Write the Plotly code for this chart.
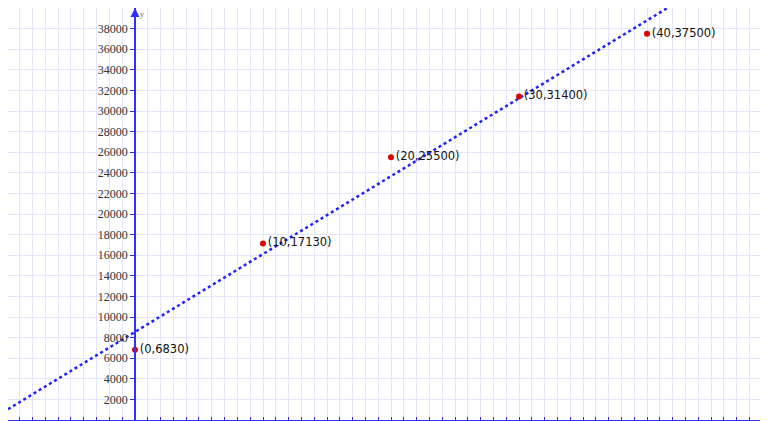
import numpy as np
import plotly.graph_objects as go

# data points
xs = [0, 10, 20, 30, 40]
ys = [6830, 17130, 25500, 31400, 37500]
y_ticks = list(range(2000, 40000, 2000))

# the page body has an 8px margin, so the figure starts at (8, 8)
x_range = [-9.92, 49.45]
y_range = [0, 40000]

# least-squares line through the points
slope, intercept = np.polyfit(xs, ys, 1)
line_x = np.array(x_range)
line_y = slope * line_x + intercept

labels = [f"({x},{y})" for x, y in zip(xs, ys)]

fig = go.Figure()

fig.add_trace(go.Scatter(
    x=line_x, y=line_y,
    mode="lines",
    line=dict(color="#2020ff", width=2.5, dash="dot"),
    hoverinfo="skip",
))

fig.add_trace(go.Scatter(
    x=xs, y=ys,
    mode="markers+text",
    text=labels,
    textposition="middle right",
    textfont=dict(family="DejaVu Sans", size=11.5, color="#111"),
    marker=dict(color="#dd0000", size=6),
    cliponaxis=False,
))

# arrow on top of the y axis
fig.add_annotation(
    x=0, y=y_range[1], ax=0, ay=18, xref="x", yref="y",
    text="", showarrow=True, arrowhead=2, arrowsize=1.2,
    arrowwidth=1.5, arrowcolor="#3030ff",
)
fig.add_annotation(
    x=0, y=y_range[1], xref="x", yref="y", text="y",
    showarrow=False, xanchor="left", yanchor="top", xshift=3, yshift=0,
    font=dict(family="Liberation Serif", size=8, color="#666"),
)

zero_pos = (0 - x_range[0]) / (x_range[1] - x_range[0])

fig.update_layout(
    width=760, height=413,
    plot_bgcolor="white", paper_bgcolor="white",
    showlegend=False,
    margin=dict(l=0, r=0, t=0, b=1, autoexpand=False),
    xaxis=dict(
        range=x_range, dtick=1, showgrid=True, gridcolor="#e4e4ff",
        gridwidth=1, zeroline=False, showticklabels=False,
        showline=True, linecolor="#3030ff", linewidth=1.5,
        ticks="inside", ticklen=3, tickcolor="#3030ff",
        automargin=False,
    ),
    yaxis=dict(
        range=y_range, tickvals=y_ticks, tickformat="d", showgrid=True,
        gridcolor="#e4e4ff", gridwidth=1, zeroline=False,
        anchor="free", position=zero_pos, automargin=False,
        showline=True, linecolor="#3030ff", linewidth=1.5,
        ticks="outside", ticklen=4, tickcolor="#3030ff",
        tickfont=dict(family="Liberation Serif", size=12, color="#333"),
    ),
)

fig.write_html("out.html")
